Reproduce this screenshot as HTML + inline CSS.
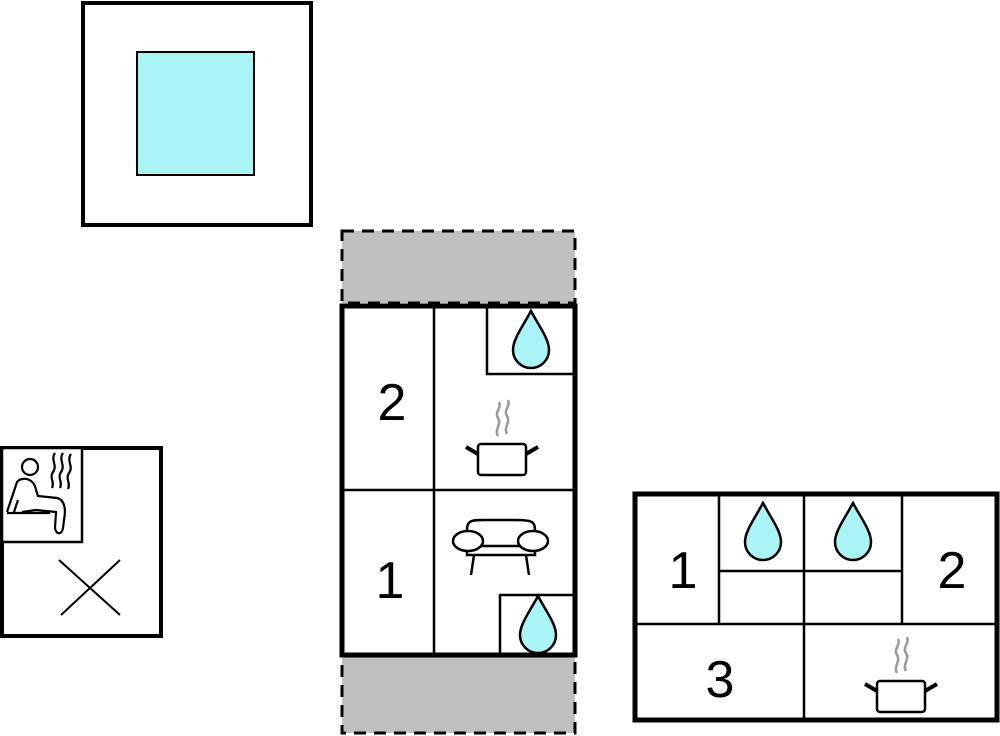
<!DOCTYPE html>
<html><head><style>body{margin:0;background:#fff}svg{display:block}</style></head><body>
<svg width="1000" height="736" viewBox="0 0 1000 736" xmlns="http://www.w3.org/2000/svg" font-family="Liberation Sans, sans-serif">
<defs>
<path id="drop" d="M0,0 C-8,15 -18,28 -18,39 A18,18 0 0 0 18,39 C18,28 8,15 0,0Z" fill="#aaf4f6" stroke="#000" stroke-width="2.5"/>
<g id="pot">
<rect x="-24" y="0" width="48" height="31" rx="3" fill="#fff" stroke="#000" stroke-width="2.5"/>
<line x1="-24" y1="10" x2="-36" y2="3" stroke="#000" stroke-width="4"/>
<line x1="24" y1="10" x2="36" y2="3" stroke="#000" stroke-width="4"/>
<path d="M-4,-8 C-8,-14 0,-20 -4,-26 C-8,-32 0,-36 -3,-42 M5,-10 C1,-16 9,-22 5,-28 C1,-34 9,-38 6,-44" fill="none" stroke="#999" stroke-width="2.5"/>
</g>
</defs>
<!-- pool -->
<rect x="83" y="3" width="228" height="222" fill="#fff" stroke="#000" stroke-width="4"/>
<rect x="137" y="52" width="117" height="123" fill="#aaf4f6" stroke="#000" stroke-width="2"/>
<!-- middle -->
<rect x="342" y="231" width="233" height="72" fill="#c0c0c0" stroke="#000" stroke-width="3" stroke-dasharray="12,8"/>
<rect x="342" y="655" width="233" height="78" fill="#c0c0c0" stroke="#000" stroke-width="3" stroke-dasharray="12,8"/>
<rect x="342" y="306" width="233" height="349" fill="#fff" stroke="#000" stroke-width="5"/>
<line x1="434" y1="306" x2="434" y2="655" stroke="#000" stroke-width="2.5"/>
<line x1="342" y1="490" x2="575" y2="490" stroke="#000" stroke-width="2.5"/>
<polyline points="487,306 487,374 575,374" fill="none" stroke="#000" stroke-width="2.5"/>
<polyline points="500,655 500,595 575,595" fill="none" stroke="#000" stroke-width="2.5"/>
<use href="#drop" x="531" y="311"/>
<use href="#drop" x="538" y="596"/>
<use href="#pot" x="502" y="444"/>
<g fill="#fff" stroke="#000" stroke-width="2.5">
<path d="M467,531 C467,519 472,520 490,520 L514,520 C532,520 535,521 535,531 L535,555 L467,555 Z"/>
<line x1="474" y1="555" x2="471" y2="575"/><line x1="526" y1="555" x2="529" y2="575"/>
<line x1="467" y1="546" x2="535" y2="546"/>
<ellipse cx="468" cy="541" rx="15" ry="10"/>
<ellipse cx="533" cy="541" rx="15" ry="10"/>
</g>
<text x="392" y="420" font-size="52" text-anchor="middle">2</text>
<text x="390" y="598" font-size="52" text-anchor="middle">1</text>
<!-- sauna -->
<rect x="2" y="448" width="159" height="188" fill="#fff" stroke="#000" stroke-width="4"/>
<rect x="2" y="448" width="80" height="94" fill="#fff" stroke="#000" stroke-width="2.5"/>
<g fill="none" stroke="#000" stroke-width="2.2">
<circle cx="30" cy="467" r="8"/>
<path d="M7,512 L17,482 C22,476 34,478 36,490 L38,496 L57,498 C65,500 66,510 64,520 L63,528 C62,535 56,535 55,528 L56,512 L36,510 L22,512 M7,513 L50,513"/>
<path d="M18,500 L14,512"/>
<path d="M55,453 C50,460 58,465 53,472 C49,478 55,482 52,488 M63,453 C58,460 66,465 61,472 C57,478 63,482 60,488 M71,454 C66,461 74,466 69,473 C65,479 71,483 68,489"/>
</g>
<line x1="59" y1="560" x2="120" y2="615" stroke="#000" stroke-width="2"/>
<line x1="120" y1="560" x2="61" y2="615" stroke="#000" stroke-width="2"/>
<!-- right -->
<rect x="635" y="494" width="362" height="226" fill="#fff" stroke="#000" stroke-width="5"/>
<g stroke="#000" stroke-width="2.5">
<line x1="719" y1="494" x2="719" y2="624"/>
<line x1="804" y1="494" x2="804" y2="720"/>
<line x1="902" y1="494" x2="902" y2="624"/>
<line x1="719" y1="571" x2="902" y2="571"/>
<line x1="635" y1="624" x2="997" y2="624"/>
</g>
<use href="#drop" x="763" y="503"/>
<use href="#drop" x="853" y="503"/>
<use href="#pot" x="901" y="681"/>
<text x="683" y="588" font-size="52" text-anchor="middle">1</text>
<text x="952" y="588" font-size="52" text-anchor="middle">2</text>
<text x="720" y="697" font-size="52" text-anchor="middle">3</text>
</svg>
</body></html>
